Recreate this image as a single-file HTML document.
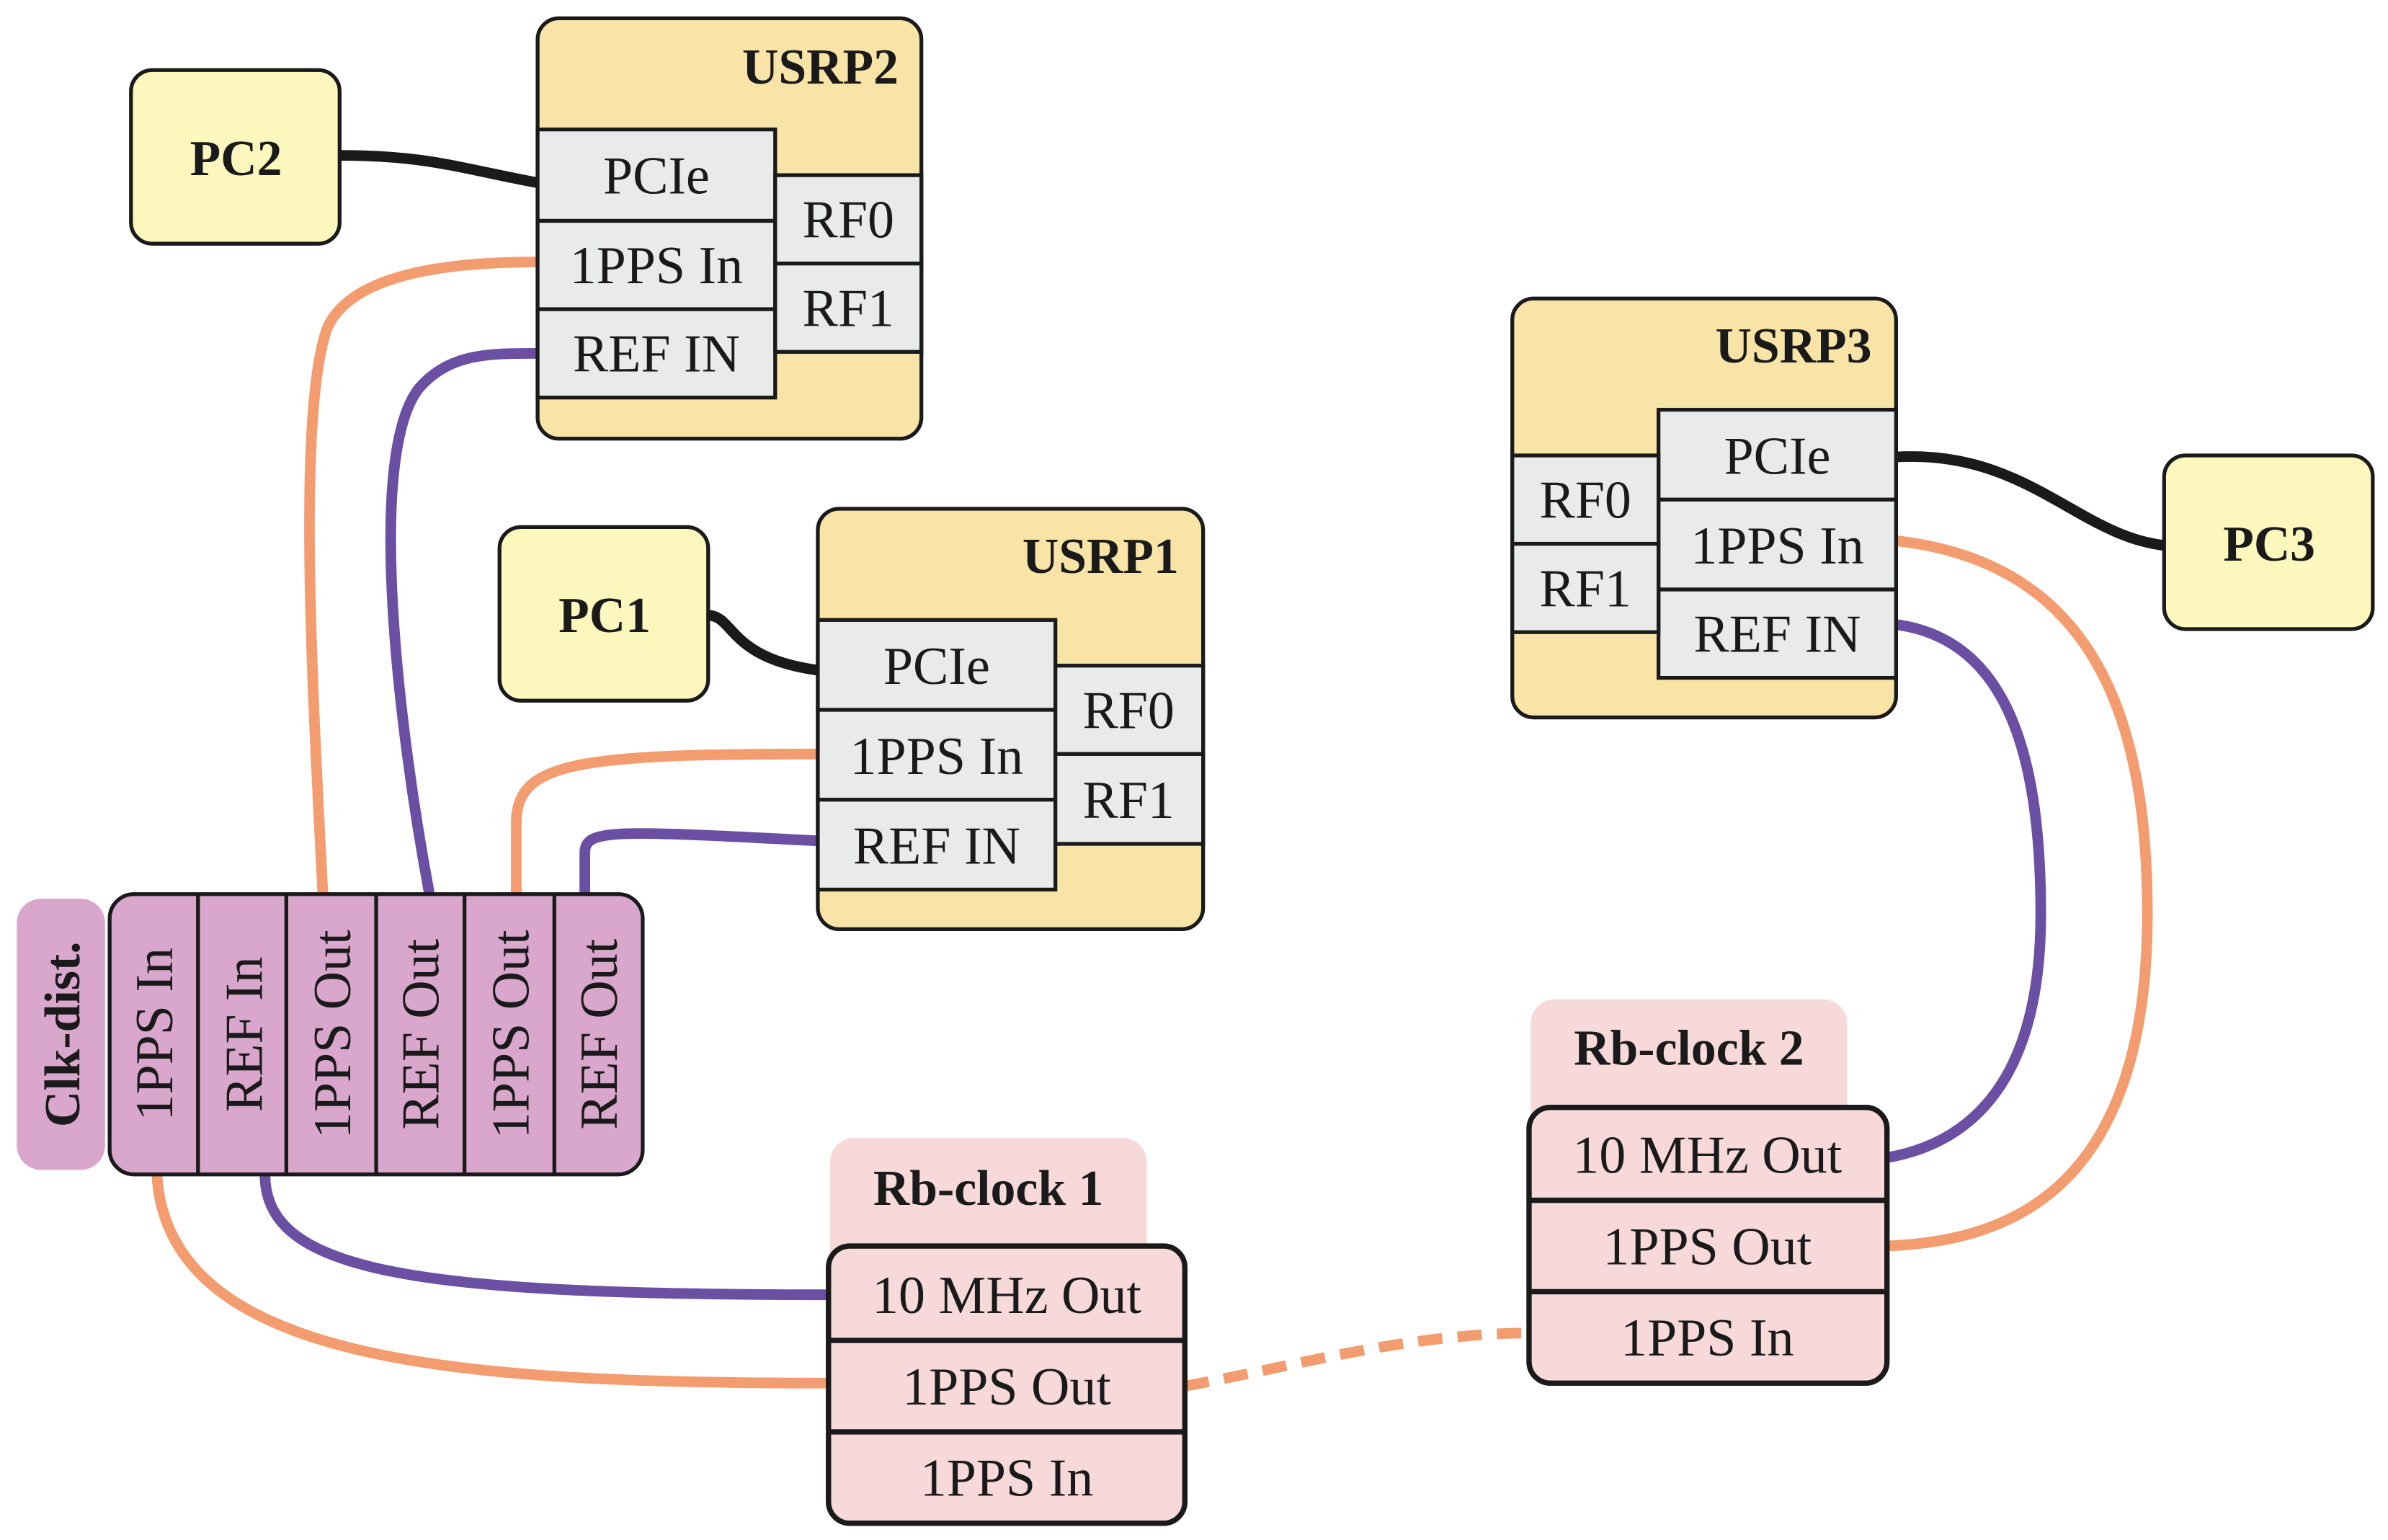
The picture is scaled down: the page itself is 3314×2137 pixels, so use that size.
<!DOCTYPE html>
<html><head><meta charset="utf-8"><style>
html,body{margin:0;padding:0;background:#fff;}
svg{display:block;}
text{font-family:"Liberation Serif",serif;fill:#1a1a1a;}
.b{font-weight:bold;}
</style></head><body>
<svg width="3314" height="2137" viewBox="0 0 1568 1011" preserveAspectRatio="none" xmlns="http://www.w3.org/2000/svg">
<g fill="none" stroke-linecap="butt">
<path d="M223,102 C280,102 300,110 353,120" stroke="#1a1a1a" stroke-width="7"/>
<path d="M465,404 C482,404 478,432 537,440" stroke="#1a1a1a" stroke-width="7"/>
<path d="M1245,300 C1330,295 1365,352 1421,358" stroke="#1a1a1a" stroke-width="7"/>
<path d="M212,587 C205,450 195,270 215,215 C232,178 300,172 353,172" stroke="#f39c6f" stroke-width="7"/>
<path d="M282,587 C262,480 240,300 275,255 C295,232 320,232 353,232" stroke="#6b4fa3" stroke-width="7"/>
<path d="M339,587 L339,540 C339,500 380,495 537,495" stroke="#f39c6f" stroke-width="7"/>
<path d="M384,587 L384,560 C384,544 402,545 537,552" stroke="#6b4fa3" stroke-width="7"/>
<path d="M1245,355 C1380,370 1410,480 1410,600 C1410,790 1310,815 1239,818" stroke="#f39c6f" stroke-width="7"/>
<path d="M1245,410 C1320,420 1340,500 1340,600 C1340,720 1285,752 1239,760" stroke="#6b4fa3" stroke-width="7"/>
<path d="M174,771 C174,835 270,850 544,850" stroke="#6b4fa3" stroke-width="7"/>
<path d="M103,771 C110,895 300,908 544,908" stroke="#f39c6f" stroke-width="7"/>
<path d="M778,910 C850,897 920,876 1004,875" stroke="#f39c6f" stroke-width="7" stroke-dasharray="16,10"/>
</g>
<g stroke="#1a1a1a" stroke-width="2.5" fill="#fbf7bd">
<rect x="86" y="46" width="137" height="114" rx="14"/>
<rect x="328" y="346" width="137" height="114" rx="14"/>
<rect x="1421" y="299" width="137" height="114" rx="14"/>
</g>
<g font-size="33" text-anchor="middle">
<text x="155" y="115" class="b">PC2</text>
<text x="397" y="415" class="b">PC1</text>
<text x="1490" y="368" class="b">PC3</text>
</g>
<g stroke="#1a1a1a" stroke-width="2.5">
<rect x="353" y="12" width="252" height="276" rx="14" fill="#f9e4a8"/>
<rect x="537" y="334" width="253" height="276" rx="14" fill="#f9e4a8"/>
<rect x="993" y="196" width="252" height="275" rx="14" fill="#f9e4a8"/>
<g fill="#e9ebeb">
<rect x="353" y="85" width="156" height="60"/><rect x="353" y="145" width="156" height="58"/><rect x="353" y="203" width="156" height="58"/>
<rect x="509" y="115" width="96" height="58"/><rect x="509" y="173" width="96" height="58"/>
<rect x="537" y="407" width="156" height="59"/><rect x="537" y="466" width="156" height="59"/><rect x="537" y="525" width="156" height="59"/>
<rect x="693" y="437" width="97" height="58"/><rect x="693" y="495" width="97" height="59"/>
<rect x="1089" y="269" width="156" height="59"/><rect x="1089" y="328" width="156" height="59"/><rect x="1089" y="387" width="156" height="58"/>
<rect x="993" y="299" width="96" height="58"/><rect x="993" y="357" width="96" height="58"/>
</g>
</g>
<g font-size="33" text-anchor="end">
<text x="590" y="55" class="b">USRP2</text>
<text x="774" y="376" class="b">USRP1</text>
<text x="1229" y="238" class="b">USRP3</text>
</g>
<g font-size="35" text-anchor="middle">
<text x="431" y="127">PCIe</text><text x="431" y="186">1PPS In</text><text x="431" y="244">REF IN</text>
<text x="557" y="156">RF0</text><text x="557" y="214">RF1</text>
<text x="615" y="449">PCIe</text><text x="615" y="508">1PPS In</text><text x="615" y="567">REF IN</text>
<text x="741" y="478">RF0</text><text x="741" y="537">RF1</text>
<text x="1167" y="311">PCIe</text><text x="1167" y="370">1PPS In</text><text x="1167" y="428">REF IN</text>
<text x="1041" y="340">RF0</text><text x="1041" y="398">RF1</text>
</g>
<rect x="11" y="590" width="58" height="178" rx="16" fill="#d9a6cc"/>
<g stroke="#1a1a1a" stroke-width="2.5" fill="#d9a6cc">
<rect x="72" y="587" width="350" height="184" rx="16"/>
<path d="M130,587V771M188,587V771M247,587V771M305,587V771M364,587V771" fill="none"/>
</g>
<g font-size="35" text-anchor="middle">
<text transform="translate(52,679) rotate(-90)" class="b" font-size="33">Clk-dist.</text>
<text transform="translate(113,679) rotate(-90)">1PPS In</text>
<text transform="translate(172,679) rotate(-90)">REF In</text>
<text transform="translate(230,679) rotate(-90)">1PPS Out</text>
<text transform="translate(288,679) rotate(-90)">REF Out</text>
<text transform="translate(347,679) rotate(-90)">1PPS Out</text>
<text transform="translate(405,679) rotate(-90)">REF Out</text>
</g>
<rect x="545" y="747" width="208" height="90" rx="16" fill="#f7d9d9"/>
<rect x="1005" y="656" width="208" height="90" rx="16" fill="#f7d9d9"/>
<g stroke="#1a1a1a" stroke-width="3.5" fill="#f7d9d9">
<rect x="544" y="818" width="234" height="182" rx="14"/>
<path d="M544,880H778M544,940H778" fill="none"/>
<rect x="1004" y="727" width="235" height="181" rx="14"/>
<path d="M1004,788H1239M1004,848H1239" fill="none"/>
</g>
<g font-size="33" text-anchor="middle">
<text x="649" y="791" class="b">Rb-clock 1</text>
<text x="1109" y="699" class="b">Rb-clock 2</text>
</g>
<g font-size="35" text-anchor="middle">
<text x="661" y="862">10 MHz Out</text><text x="661" y="922">1PPS Out</text><text x="661" y="982">1PPS In</text>
<text x="1121" y="770">10 MHz Out</text><text x="1121" y="830">1PPS Out</text><text x="1121" y="890">1PPS In</text>
</g>
</svg>
</body></html>
